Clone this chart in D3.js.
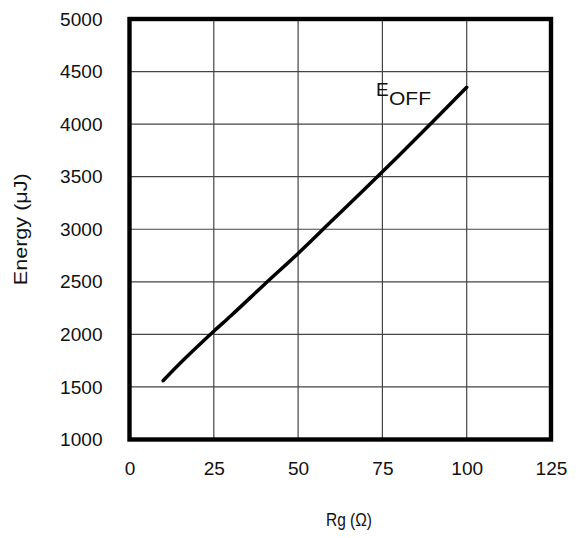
<!DOCTYPE html>
<html>
<head>
<meta charset="utf-8">
<script src="https://cdn.jsdelivr.net/npm/d3@7"></script>
<style>
  html, body { margin: 0; padding: 0; background: #fff; }
  svg { display: block; }
  text { font-family: "Liberation Sans", Arial, Helvetica, sans-serif; fill: #111; }
</style>
</head>
<body>
<svg id="chart" width="579" height="538"></svg>
<script>
// ---- data ----
const rgValues = [10, 15, 20, 25, 30, 40, 50, 60, 70, 75, 80, 90, 100];
const eoffValues = [1560, 1725, 1880, 2030, 2175, 2475, 2770, 3080, 3390, 3546, 3705, 4025, 4350];
const xTicks = [0, 25, 50, 75, 100, 125];
const yTicks = [1000, 1500, 2000, 2500, 3000, 3500, 4000, 4500, 5000];
const seriesLabel = 'E';
const seriesSub = 'OFF';
const xTitle = 'Rg (\u03A9)';
const yTitle = 'Energy (\u03BCJ)';

// ---- layout ----
const plotLeft = 129.5, plotTop = 19, plotRight = 551, plotBottom = 439.5;

const svg = d3.select('#chart');

const x = d3.scaleLinear().domain([0, 125]).range([plotLeft, plotRight]);
const y = d3.scaleLinear().domain([1000, 5000]).range([plotBottom, plotTop]);

// gridlines
const grid = svg.append('g').attr('class', 'grid');
grid.selectAll('line.v')
  .data(xTicks.slice(1, -1))
  .enter().append('line')
  .attr('x1', d => x(d)).attr('x2', d => x(d))
  .attr('y1', plotTop).attr('y2', plotBottom)
  .attr('stroke', '#444').attr('stroke-width', 1.2);
grid.selectAll('line.h')
  .data(yTicks.slice(1, -1))
  .enter().append('line')
  .attr('y1', d => y(d)).attr('y2', d => y(d))
  .attr('x1', plotLeft).attr('x2', plotRight)
  .attr('stroke', '#444').attr('stroke-width', 1.2);

// axes (labels only, frame drawn separately)
const xAxis = svg.append('g')
  .attr('transform', `translate(0,${plotBottom})`)
  .call(d3.axisBottom(x).tickValues(xTicks).tickSize(0).tickPadding(22));
const yAxis = svg.append('g')
  .attr('transform', `translate(${plotLeft},0)`)
  .call(d3.axisLeft(y).tickValues(yTicks).tickSize(0).tickPadding(27).tickFormat(d3.format('d')));
[xAxis, yAxis].forEach(a => {
  a.select('.domain').remove();
  a.selectAll('text')
    .style('font-family', '"Liberation Sans", Arial, sans-serif')
    .style('font-size', '19px')
    .attr('fill', '#111')
    // reference glyphs run a little wider than Liberation Sans
    .attr('textLength', function () { return this.textContent.length * 10.6; })
    .attr('lengthAdjust', 'spacingAndGlyphs');
});

// frame
svg.append('rect')
  .attr('x', plotLeft).attr('y', plotTop)
  .attr('width', plotRight - plotLeft).attr('height', plotBottom - plotTop)
  .attr('fill', 'none').attr('stroke', '#000').attr('stroke-width', 4.4);

// curve
const pts = rgValues.map((r, i) => [r, eoffValues[i]]);
svg.append('path')
  .datum(pts)
  .attr('d', d3.line().x(d => x(d[0])).y(d => y(d[1])).curve(d3.curveMonotoneX))
  .attr('fill', 'none')
  .attr('stroke', '#000')
  .attr('stroke-width', 3.5)
  .attr('stroke-linecap', 'round');

// series label
svg.append('text')
  .attr('x', 376).attr('y', 96)
  .style('font-size', '19px')
  .text(seriesLabel);
svg.append('text')
  .attr('x', 389).attr('y', 105)
  .style('font-size', '19px')
  .attr('textLength', 42)
  .attr('lengthAdjust', 'spacingAndGlyphs')
  .text(seriesSub);

// axis titles
svg.append('text')
  .attr('x', 349).attr('y', 526)
  .attr('text-anchor', 'middle')
  .style('font-size', '19px')
  .attr('textLength', 46)
  .attr('lengthAdjust', 'spacingAndGlyphs')
  .text(xTitle);

svg.append('text')
  .attr('transform', `translate(27,${(plotTop + plotBottom) / 2}) rotate(-90)`)
  .attr('text-anchor', 'middle')
  .style('font-size', '18px')
  .attr('textLength', 112)
  .attr('lengthAdjust', 'spacingAndGlyphs')
  .text(yTitle);
</script>
</body>
</html>
